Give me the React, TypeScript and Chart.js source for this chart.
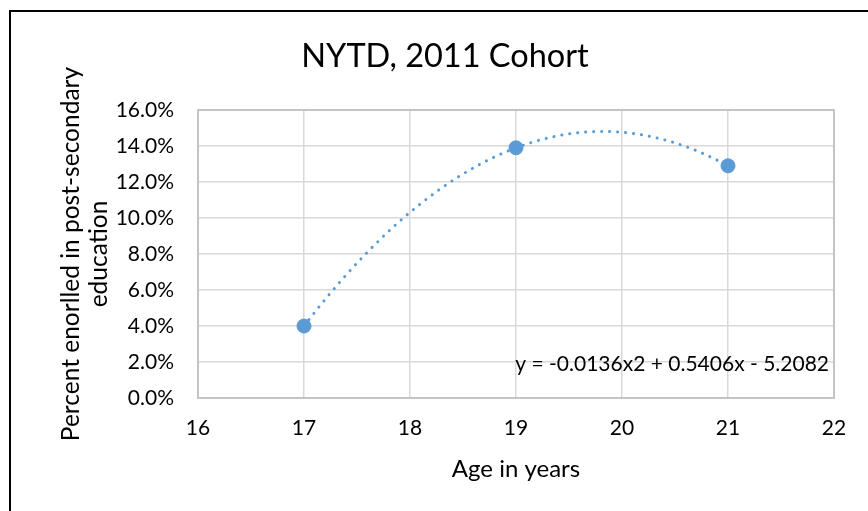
import React, { useEffect, useRef } from "react";
import { Chart, registerables } from "chart.js";

Chart.register(...registerables);

const ages = [17, 19, 21];
const percentEnrolled = [0.04, 0.139, 0.129];
const xTicks = [16, 17, 18, 19, 20, 21, 22];
const yTicks = [0, 0.02, 0.04, 0.06, 0.08, 0.1, 0.12, 0.14, 0.16];
const chartTitle = "NYTD, 2011 Cohort";
const yTitleLines = ["Percent enorlled in post-secondary", "education"];
const xTitle = "Age in years";
const equationLabel = "y = -0.0136x2 + 0.5406x - 5.2082";

const FONT = "Lato, 'Open Sans', sans-serif";
const BLUE = "#5b9bd5";

// least-squares quadratic fit (Excel polynomial trendline, order 2)
function fitQuadratic(xs: number[], ys: number[]) {
  const n = xs.length;
  let s0 = n, s1 = 0, s2 = 0, s3 = 0, s4 = 0, t0 = 0, t1 = 0, t2 = 0;
  for (let i = 0; i < n; i++) {
    const x = xs[i], y = ys[i];
    s1 += x; s2 += x * x; s3 += x * x * x; s4 += x * x * x * x;
    t0 += y; t1 += x * y; t2 += x * x * y;
  }
  const M = [
    [s4, s3, s2, t2],
    [s3, s2, s1, t1],
    [s2, s1, s0, t0],
  ];
  for (let c = 0; c < 3; c++) {
    let p = c;
    for (let r = c + 1; r < 3; r++) if (Math.abs(M[r][c]) > Math.abs(M[p][c])) p = r;
    [M[c], M[p]] = [M[p], M[c]];
    for (let r = 0; r < 3; r++) {
      if (r === c) continue;
      const f = M[r][c] / M[c][c];
      for (let k = c; k < 4; k++) M[r][k] -= f * M[c][k];
    }
  }
  return [M[0][3] / M[0][0], M[1][3] / M[1][1], M[2][3] / M[2][2]];
}

const decorPlugin = {
  id: "decor",
  beforeDatasetsDraw(chart: any) {
    const { ctx, scales } = chart;
    const xs = scales.x, ys = scales.y;
    const [a, b, c] = fitQuadratic(ages, percentEnrolled);
    const x0 = Math.min(...ages), x1 = Math.max(...ages);
    ctx.save();
    ctx.strokeStyle = BLUE;
    ctx.lineWidth = 3;
    ctx.lineCap = "round";
    ctx.setLineDash([0.1, 7.9]);
    ctx.beginPath();
    const steps = 200;
    for (let i = 0; i <= steps; i++) {
      const x = x0 + ((x1 - x0) * i) / steps;
      const y = a * x * x + b * x + c;
      const px = xs.getPixelForValue(x), py = ys.getPixelForValue(y);
      if (i === 0) ctx.moveTo(px, py);
      else ctx.lineTo(px, py);
    }
    ctx.stroke();
    ctx.restore();
  },
  afterDraw(chart: any) {
    const { ctx, chartArea } = chart;
    ctx.save();
    // plot area border
    ctx.strokeStyle = "#c4c4c4";
    ctx.lineWidth = 2;
    ctx.strokeRect(chartArea.left, chartArea.top, chartArea.right - chartArea.left, chartArea.bottom - chartArea.top);
    // outer chart border (cropped)
    ctx.strokeStyle = "#000";
    ctx.lineWidth = 2;
    ctx.strokeRect(10, 11, 1000, 1000);

    ctx.fillStyle = "#000";
    ctx.textAlign = "center";
    ctx.textBaseline = "middle";
    ctx.font = `32.5px ${FONT}`;
    ctx.fillText(chartTitle, 445, 57);

    ctx.font = `24px ${FONT}`;
    ctx.fillText(xTitle, (chartArea.left + chartArea.right) / 2, 469);

    ctx.save();
    ctx.font = `24.5px ${FONT}`;
    ctx.translate(71, (chartArea.top + chartArea.bottom) / 2);
    ctx.rotate(-Math.PI / 2);
    ctx.fillText(yTitleLines[0], 0, 0);
    ctx.fillText(yTitleLines[1], 0, 28);
    ctx.restore();

    ctx.font = `21px ${FONT}`;
    ctx.textAlign = "right";
    ctx.fillText(equationLabel, 829, 364);
    ctx.restore();
  },
};

export default function App() {
  const ref = useRef<HTMLCanvasElement>(null);
  useEffect(() => {
    if (!ref.current) return;
    const chart = new Chart(ref.current, {
      type: "scatter",
      data: {
        datasets: [
          {
            label: "Enrolled",
            data: ages.map((x, i) => ({ x, y: percentEnrolled[i] })),
            backgroundColor: BLUE,
            borderColor: BLUE,
            pointRadius: 7,
            pointBorderWidth: 1,
          },
        ],
      },
      options: {
        responsive: false,
        animation: false,
        devicePixelRatio: 1,
        layout: { padding: { top: 110, right: 34, left: 0, bottom: 0 } },
        plugins: { legend: { display: false }, tooltip: { enabled: false }, title: { display: false } },
        scales: {
          x: {
            type: "linear",
            min: 16,
            max: 22,
            afterFit: (s: any) => { s.height = 113; },
            afterBuildTicks: (s: any) => { s.ticks = xTicks.map((v) => ({ value: v })); },
            ticks: { font: { family: FONT, size: 21 }, color: "#000", padding: 18, stepSize: 1 },
            grid: { color: "#d9d9d9", lineWidth: 1.5, drawTicks: false },
            border: { display: false },
          },
          y: {
            type: "linear",
            min: 0,
            max: 0.16,
            afterFit: (s: any) => { s.width = 198; },
            afterBuildTicks: (s: any) => { s.ticks = yTicks.map((v) => ({ value: v })); },
            ticks: {
              font: { family: FONT, size: 21 },
              color: "#000",
              padding: 24,
              callback: (v: any) => (Number(v) * 100).toFixed(1) + "%",
            },
            grid: { color: "#d9d9d9", lineWidth: 1.5, drawTicks: false },
            border: { display: false },
          },
        },
      },
      plugins: [decorPlugin],
    });
    return () => chart.destroy();
  }, []);
  return (
    <div style={{ position: "absolute", left: 0, top: 0, width: 868, height: 511, background: "#fff" }}>
      <canvas ref={ref} width={868} height={511} />
    </div>
  );
}
